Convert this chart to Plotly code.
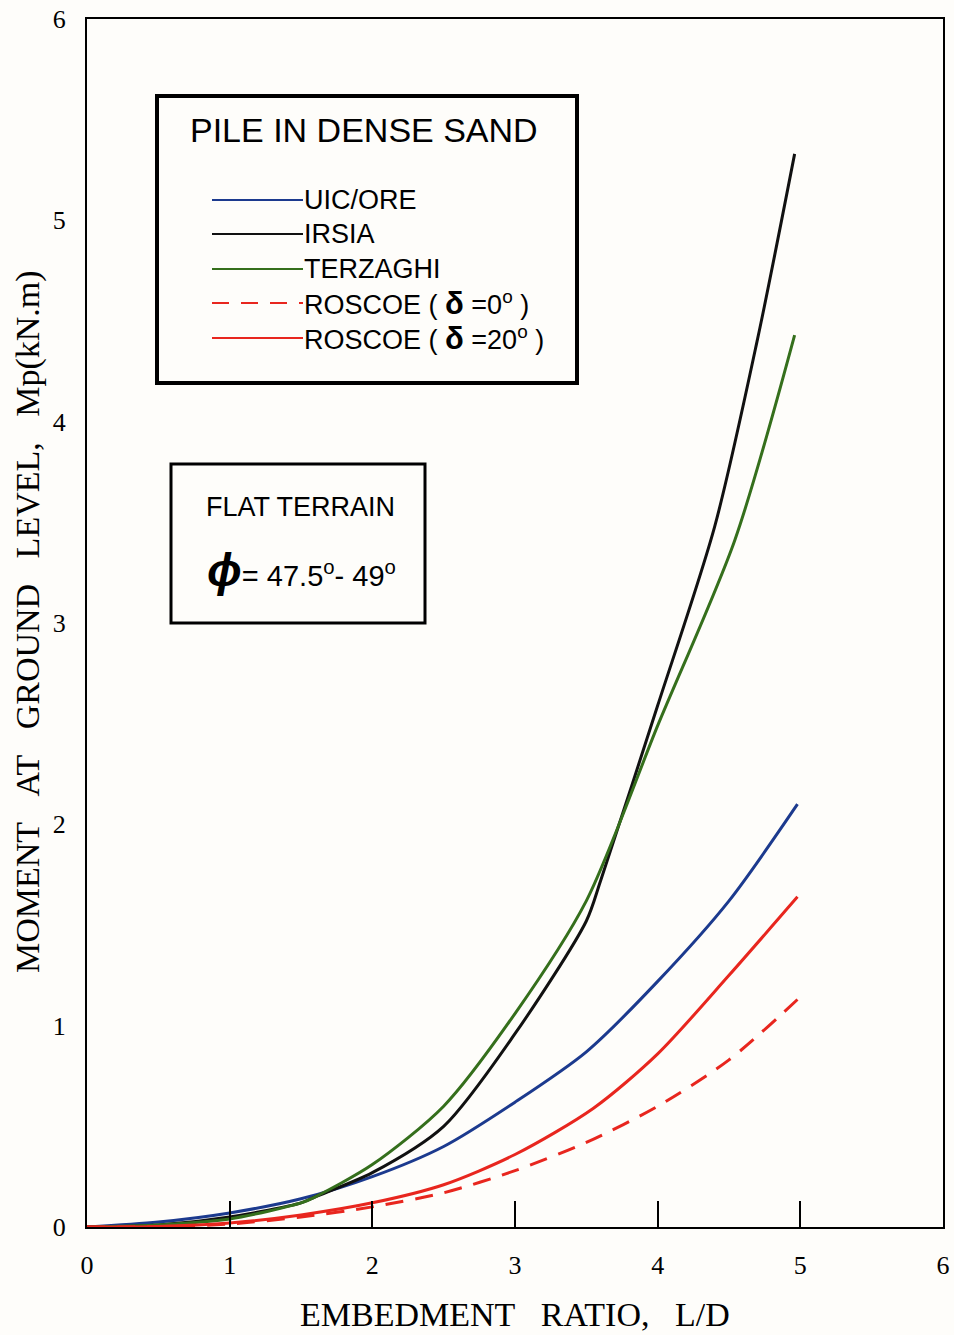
import plotly.graph_objects as go

# Moment at ground level vs embedment ratio, pile in dense sand
uic_x = [0, 0.5, 1, 1.5, 2, 2.5, 3, 3.5, 4, 4.5, 4.98]
uic_y = [0, 0.025, 0.07, 0.14, 0.25, 0.40, 0.62, 0.87, 1.22, 1.62, 2.10]

irsia_x = [0, 0.5, 1, 1.5, 1.6, 2, 2.5, 3, 3.5, 3.6, 4, 4.4, 4.7, 4.96]
irsia_y = [0, 0.01, 0.05, 0.12, 0.15, 0.27, 0.50, 0.96, 1.52, 1.72, 2.59, 3.48, 4.41, 5.33]

terz_x = [0, 0.5, 1, 1.5, 1.6, 2, 2.5, 3, 3.5, 4.0, 4.54, 4.96]
terz_y = [0, 0.01, 0.04, 0.12, 0.15, 0.31, 0.60, 1.06, 1.62, 2.49, 3.41, 4.43]

roscoe0_x = [0, 0.5, 1, 1.5, 2, 2.5, 3, 3.5, 4, 4.5, 4.98]
roscoe0_y = [0, 0.002, 0.015, 0.05, 0.10, 0.17, 0.28, 0.42, 0.60, 0.83, 1.13]

roscoe20_x = [0, 0.5, 1, 1.5, 2, 2.5, 3, 3.55, 4, 4.5, 4.98]
roscoe20_y = [0, 0.003, 0.02, 0.06, 0.12, 0.21, 0.36, 0.59, 0.86, 1.25, 1.64]

x_ticks = [0, 1, 2, 3, 4, 5, 6]
y_ticks = [0, 1, 2, 3, 4, 5, 6]

BLUE = "#1c3a8e"
BLACK = "#111111"
GREEN = "#356f1c"
RED = "#e8261e"
BG = "#fefdfa"

W, H = 954, 1335
L, R, T, B = 87, 11, 19, 108
PW, PH = W - L - R, H - T - B


def px(x):
    return (x - L) / PW


def py(y):
    return (H - B - y) / PH


fig = go.Figure()

series = [
    (uic_x, uic_y, BLUE, "solid"),
    (irsia_x, irsia_y, BLACK, "solid"),
    (terz_x, terz_y, GREEN, "solid"),
    (roscoe0_x, roscoe0_y, RED, "18px,12px"),
    (roscoe20_x, roscoe20_y, RED, "solid"),
]
for xs, ys, col, dash in series:
    fig.add_trace(go.Scatter(
        x=xs, y=ys, mode="lines",
        line=dict(color=col, width=3, dash=dash, shape="spline", smoothing=0.8),
        showlegend=False, hoverinfo="skip",
    ))

serif = "Liberation Serif"
sans = "Liberation Sans"

fig.update_layout(
    width=W, height=H,
    margin=dict(l=L, r=R, t=T, b=B, autoexpand=False),
    paper_bgcolor=BG,
    plot_bgcolor=BG,
    showlegend=False,
    xaxis=dict(
        range=[0, 6], tickvals=x_ticks, ticktext=[str(v) for v in x_ticks],
        ticks="inside", ticklen=26, tickwidth=2, tickcolor="black",
        showline=True, linecolor="black", linewidth=2, mirror=True,
        showgrid=False, zeroline=False, automargin=False,
        tickfont=dict(family=serif, size=26, color="black"),
        ticklabelstandoff=14,
    ),
    yaxis=dict(
        range=[0, 6], tickvals=y_ticks, ticktext=[str(v) for v in y_ticks],
        ticks="",
        showline=True, linecolor="black", linewidth=2, mirror=True,
        showgrid=False, zeroline=False, automargin=False,
        tickfont=dict(family=serif, size=26, color="black"),
        ticklabelstandoff=14,
    ),
)

GAP = "&nbsp;&nbsp;&nbsp;"

# Axis titles
fig.add_annotation(
    x=0.5, y=py(1314), xref="paper", yref="paper", showarrow=False,
    text=GAP.join(["EMBEDMENT", "RATIO,", "L/D"]),
    font=dict(family=serif, size=34, color="black"),
    xanchor="center", yanchor="middle",
)
fig.add_annotation(
    x=px(28), y=py(622), xref="paper", yref="paper", showarrow=False,
    text=GAP.join(["MOMENT", "AT", "GROUND", "LEVEL,", "Mp(kN.m)"]),
    textangle=-90,
    font=dict(family=serif, size=34, color="black"),
    xanchor="center", yanchor="middle",
)

# Legend box
fig.add_shape(type="rect", xref="paper", yref="paper",
              x0=px(157), x1=px(577), y0=py(383), y1=py(96),
              line=dict(color="black", width=4), fillcolor=BG)
fig.add_annotation(
    x=px(364), y=py(130), xref="paper", yref="paper", showarrow=False,
    text="PILE IN DENSE SAND", font=dict(family=sans, size=34, color="black"),
    xanchor="center", yanchor="middle",
)

DELTA = "<span style='font-size:31px'><b>δ</b></span>"
legend_rows = [
    (200, BLUE, "solid", "UIC/ORE"),
    (234, BLACK, "solid", "IRSIA"),
    (269, GREEN, "solid", "TERZAGHI"),
    (303, RED, "17px,12px", "ROSCOE ( " + DELTA + " =0<sup>o</sup> )"),
    (338, RED, "solid", "ROSCOE ( " + DELTA + " =20<sup>o</sup> )"),
]
for yy, col, dash, label in legend_rows:
    fig.add_shape(type="line", xref="paper", yref="paper",
                  x0=px(212), x1=px(303), y0=py(yy), y1=py(yy),
                  line=dict(color=col, width=2, dash=dash))
    fig.add_annotation(
        x=px(302), y=py(yy), xref="paper", yref="paper", showarrow=False,
        text=label, font=dict(family=sans, size=27, color="black"),
        xanchor="left", yanchor="middle",
    )

# Site conditions box
fig.add_shape(type="rect", xref="paper", yref="paper",
              x0=px(171), x1=px(425), y0=py(623), y1=py(464),
              line=dict(color="black", width=3), fillcolor=BG)
fig.add_annotation(
    x=px(300), y=py(507), xref="paper", yref="paper", showarrow=False,
    text="FLAT TERRAIN", font=dict(family=sans, size=27, color="black"),
    xanchor="center", yanchor="middle",
)
fig.add_annotation(
    x=px(301), y=py(570), xref="paper", yref="paper", showarrow=False,
    text="<span style='font-size:46px'><b><i>ϕ</i></b></span>= 47.5<sup>o</sup>- 49<sup>o</sup>",
    font=dict(family=sans, size=29, color="black"),
    xanchor="center", yanchor="middle",
)

fig.write_html("out.html")
